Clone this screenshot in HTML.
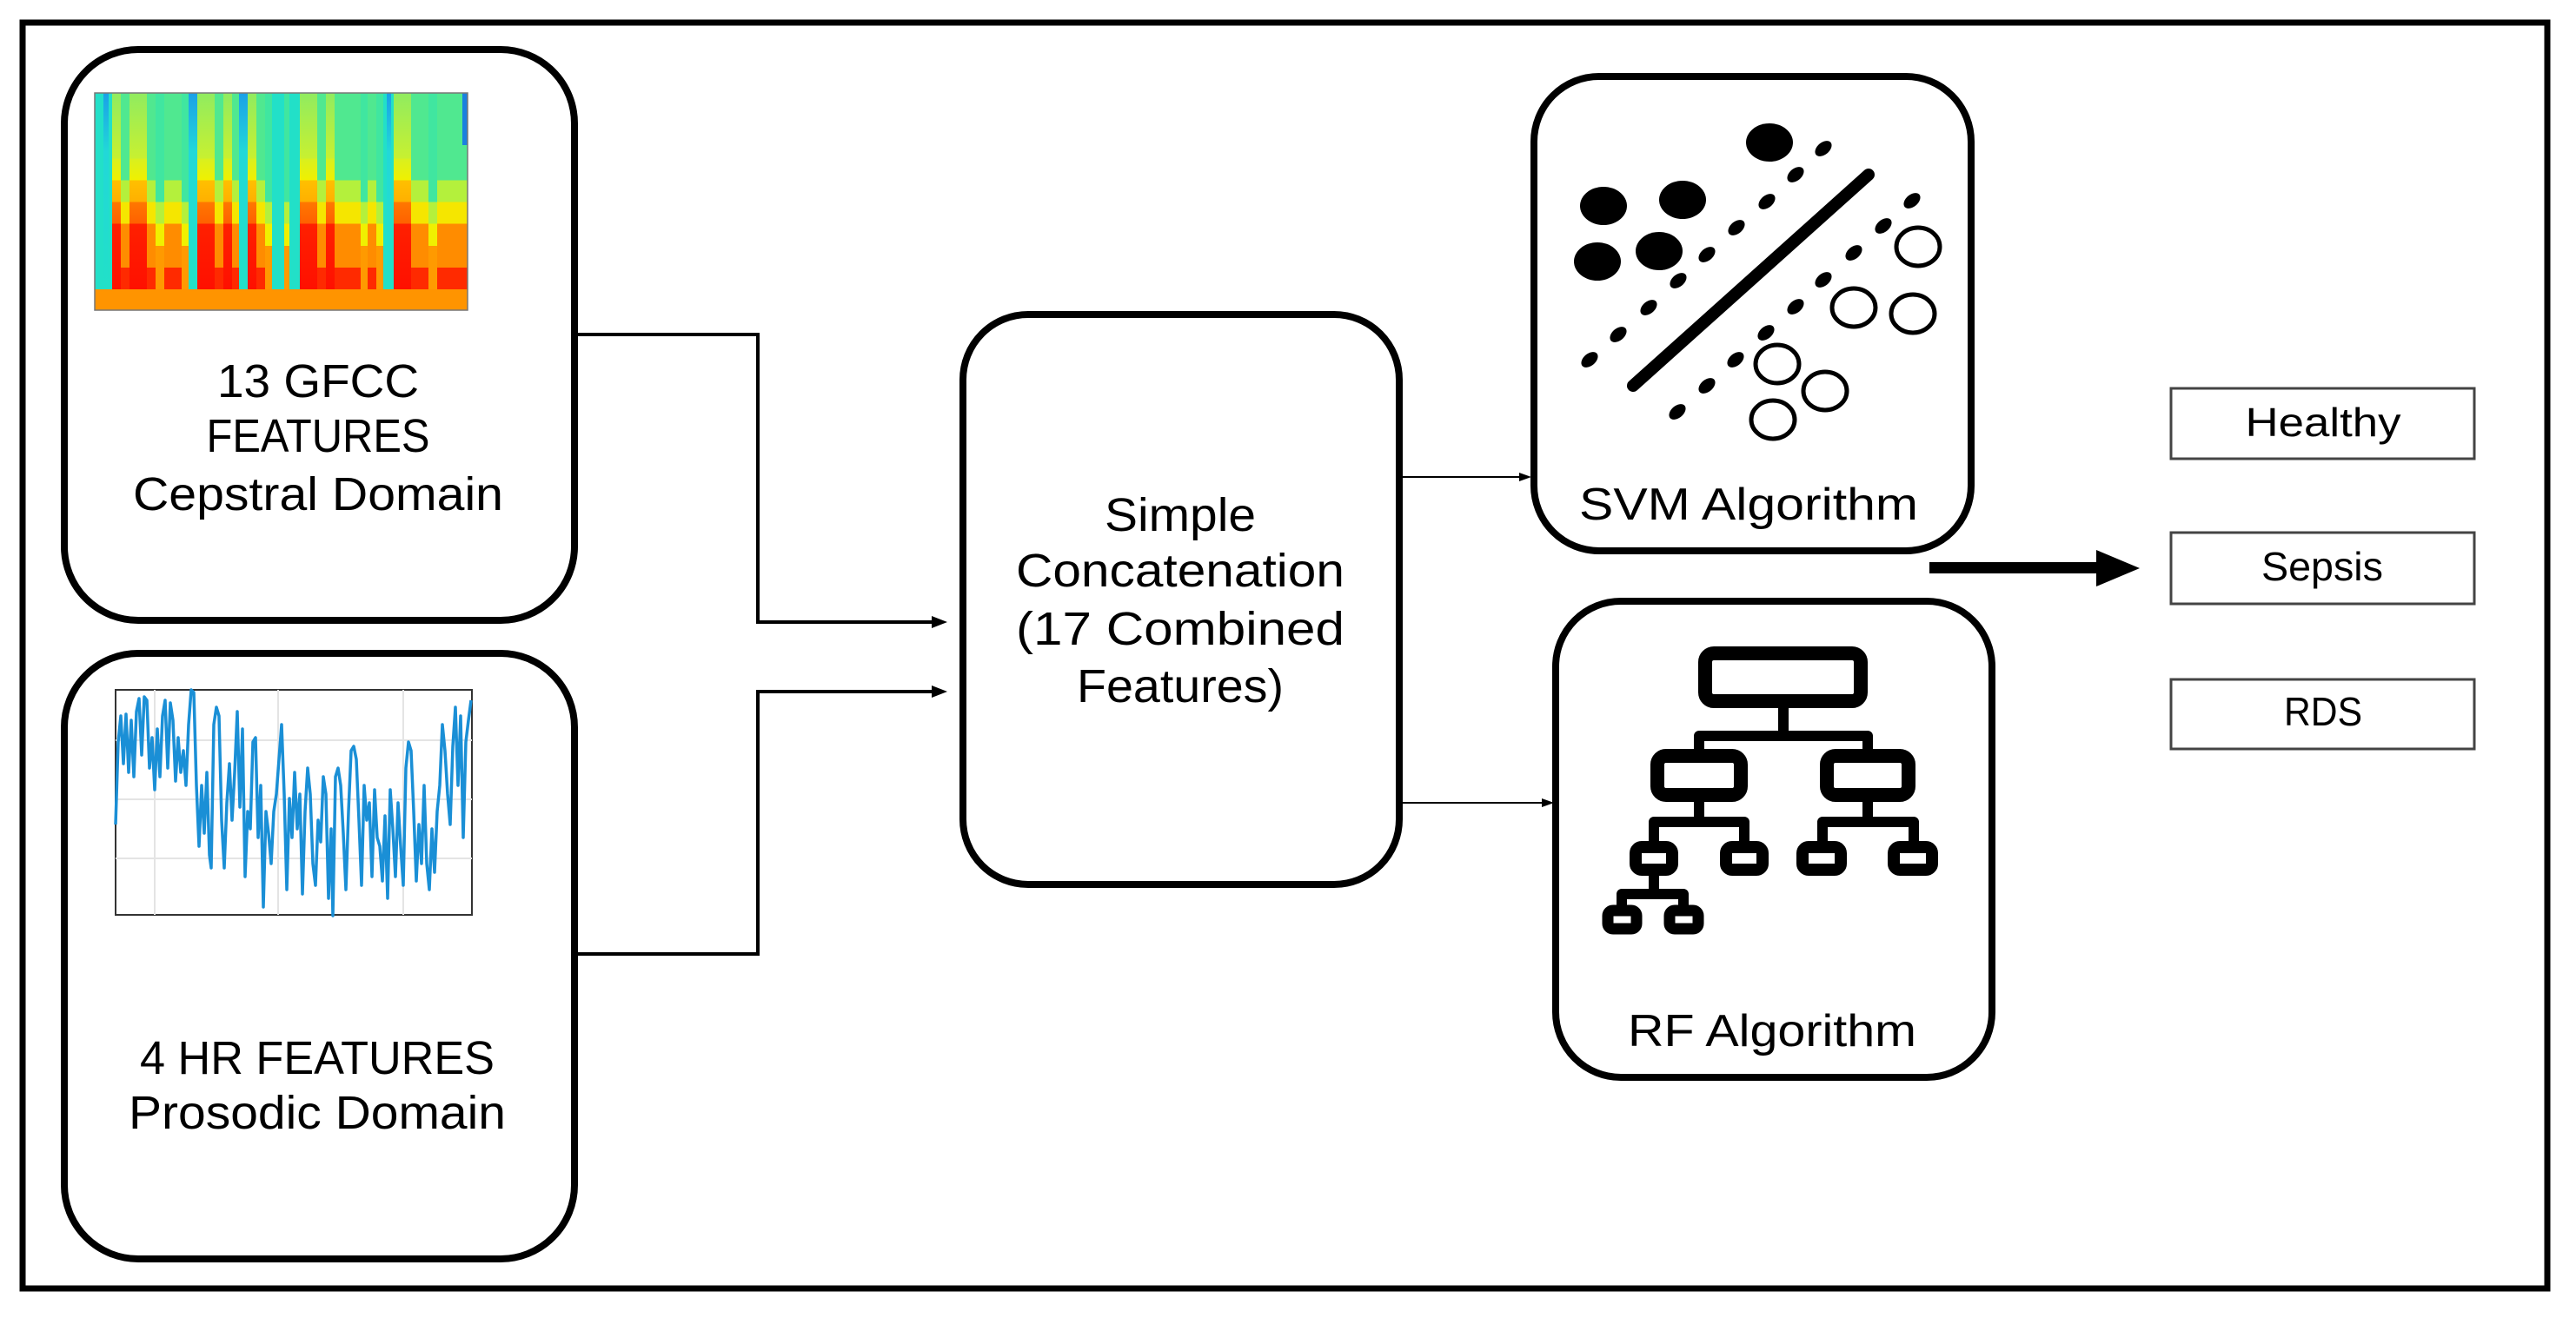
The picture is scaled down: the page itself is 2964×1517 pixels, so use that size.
<!DOCTYPE html>
<html><head><meta charset="utf-8"><style>
html,body{margin:0;padding:0;background:#fff;}
svg{display:block;}
text{font-family:"Liberation Sans",sans-serif;fill:#000;}
</style></head><body>
<svg width="2964" height="1517" viewBox="0 0 2964 1517" xmlns="http://www.w3.org/2000/svg">
<defs>
<linearGradient id="h0" x1="0" y1="0" x2="0" y2="1"><stop offset="0" stop-color="#22e0c8"/><stop offset="1" stop-color="#22e0c8"/></linearGradient>
<linearGradient id="hb" x1="0" y1="0" x2="0" y2="1"><stop offset="0" stop-color="#1aa0e8"/><stop offset="0.3" stop-color="#22d8d8"/><stop offset="1" stop-color="#22e0c8"/></linearGradient>
<linearGradient id="h3" x1="0" y1="0" x2="0" y2="1">
<stop offset="0" stop-color="#40e6a0"/><stop offset="0.556" stop-color="#40e6a0"/><stop offset="0.556" stop-color="#b4f03c"/><stop offset="0.667" stop-color="#b4f03c"/><stop offset="0.667" stop-color="#f0f000"/><stop offset="0.778" stop-color="#f0f000"/><stop offset="0.778" stop-color="#ff9a00"/><stop offset="1" stop-color="#ff9a00"/></linearGradient>
<linearGradient id="h4" x1="0" y1="0" x2="0" y2="1">
<stop offset="0" stop-color="#50e890"/><stop offset="0.444" stop-color="#50e890"/><stop offset="0.444" stop-color="#b4f03c"/><stop offset="0.556" stop-color="#b4f03c"/><stop offset="0.556" stop-color="#f5e600"/><stop offset="0.667" stop-color="#f5e600"/><stop offset="0.667" stop-color="#ff8c00"/><stop offset="0.889" stop-color="#ff8c00"/><stop offset="0.889" stop-color="#ff2a00"/><stop offset="1" stop-color="#ff2a00"/></linearGradient>
<linearGradient id="h5" x1="0" y1="0" x2="0" y2="1">
<stop offset="0" stop-color="#90ec60"/><stop offset="0.333" stop-color="#c8f030"/><stop offset="0.333" stop-color="#d8f020"/><stop offset="0.444" stop-color="#f0f000"/><stop offset="0.444" stop-color="#ffc000"/><stop offset="0.556" stop-color="#ffb000"/><stop offset="0.556" stop-color="#ff7800"/><stop offset="0.667" stop-color="#ff6000"/><stop offset="0.667" stop-color="#ff2000"/><stop offset="1" stop-color="#ff1000"/></linearGradient>
</defs>

<!-- outer border -->
<rect x="26" y="26" width="2905" height="1457" fill="none" stroke="#000" stroke-width="7"/>

<!-- GFCC box -->
<rect x="74" y="57" width="587" height="657" rx="85" fill="none" stroke="#000" stroke-width="8"/>
<!-- heatmap -->
<g transform="translate(109,107)">
<rect x="0" y="0" width="429" height="226" fill="url(#h0)"/>
<rect x="0" y="0" width="20" height="226" fill="url(#h0)"/>
<rect x="10" y="0" width="6" height="226" fill="url(#hb)"/>
<rect x="20" y="0" width="10" height="226" fill="url(#h5)"/>
<rect x="30" y="0" width="10" height="226" fill="url(#h4)"/>
<rect x="40" y="0" width="10" height="226" fill="url(#h5)"/>
<rect x="50" y="0" width="10" height="226" fill="url(#h5)"/>
<rect x="60" y="0" width="10" height="226" fill="url(#h4)"/>
<rect x="70" y="0" width="10" height="226" fill="url(#h3)"/>
<rect x="80" y="0" width="10" height="226" fill="url(#h4)"/>
<rect x="90" y="0" width="10" height="226" fill="url(#h4)"/>
<rect x="100" y="0" width="8" height="226" fill="url(#h3)"/>
<rect x="108" y="0" width="10" height="226" fill="url(#hb)"/>
<rect x="118" y="0" width="10" height="226" fill="url(#h5)"/>
<rect x="128" y="0" width="10" height="226" fill="url(#h5)"/>
<rect x="138" y="0" width="10" height="226" fill="url(#h4)"/>
<rect x="148" y="0" width="10" height="226" fill="url(#h5)"/>
<rect x="158" y="0" width="8" height="226" fill="url(#h4)"/>
<rect x="166" y="0" width="10" height="226" fill="url(#hb)"/>
<rect x="176" y="0" width="10" height="226" fill="url(#h5)"/>
<rect x="186" y="0" width="10" height="226" fill="url(#h4)"/>
<rect x="196" y="0" width="8" height="226" fill="url(#h3)"/>
<rect x="204" y="0" width="14" height="226" fill="url(#h0)"/>
<rect x="218" y="0" width="6" height="226" fill="url(#h3)"/>
<rect x="226" y="0" width="10" height="226" fill="url(#h0)"/>
<rect x="236" y="0" width="10" height="226" fill="url(#h5)"/>
<rect x="246" y="0" width="10" height="226" fill="url(#h5)"/>
<rect x="256" y="0" width="10" height="226" fill="url(#h4)"/>
<rect x="266" y="0" width="10" height="226" fill="url(#h5)"/>
<rect x="276" y="0" width="10" height="226" fill="url(#h4)"/>
<rect x="286" y="0" width="10" height="226" fill="url(#h4)"/>
<rect x="296" y="0" width="10" height="226" fill="url(#h4)"/>
<rect x="306" y="0" width="8" height="226" fill="url(#h3)"/>
<rect x="314" y="0" width="10" height="226" fill="url(#h4)"/>
<rect x="324" y="0" width="8" height="226" fill="url(#h3)"/>
<rect x="332" y="0" width="12" height="226" fill="url(#h0)"/>
<rect x="336" y="0" width="5" height="226" fill="url(#hb)"/>
<rect x="344" y="0" width="10" height="226" fill="url(#h5)"/>
<rect x="354" y="0" width="10" height="226" fill="url(#h5)"/>
<rect x="364" y="0" width="10" height="226" fill="url(#h4)"/>
<rect x="374" y="0" width="10" height="226" fill="url(#h4)"/>
<rect x="384" y="0" width="10" height="226" fill="url(#h3)"/>
<rect x="394" y="0" width="12" height="226" fill="url(#h4)"/>
<rect x="406" y="0" width="23" height="226" fill="url(#h4)"/>
<rect x="423" y="0" width="6" height="60" fill="#1a80e0"/>
<rect x="0" y="226" width="429" height="24" fill="#ff9400"/>
<rect x="0" y="0" width="429" height="250" fill="none" stroke="#777" stroke-width="1.5"/>
</g>
<text x="366" y="457" font-size="54" text-anchor="middle" textLength="232" lengthAdjust="spacingAndGlyphs">13  GFCC</text>
<text x="366" y="520" font-size="54" text-anchor="middle" textLength="257" lengthAdjust="spacingAndGlyphs">FEATURES</text>
<text x="366" y="587" font-size="54" text-anchor="middle" textLength="426" lengthAdjust="spacingAndGlyphs">Cepstral Domain</text>

<!-- HR box -->
<rect x="74" y="752" width="587" height="697" rx="85" fill="none" stroke="#000" stroke-width="8"/>
<g transform="translate(133,794)">
<rect x="0" y="0" width="410" height="259" fill="#fff" stroke="#333" stroke-width="2"/>
<g stroke="#e4e4e4" stroke-width="2"><line x1="0" y1="58" x2="410" y2="58"/><line x1="0" y1="126" x2="410" y2="126"/><line x1="0" y1="194" x2="410" y2="194"/><line x1="45" y1="0" x2="45" y2="259"/><line x1="187" y1="0" x2="187" y2="259"/><line x1="331" y1="0" x2="331" y2="259"/></g>
<polyline fill="none" stroke="#1a8fd6" stroke-width="3.5" stroke-linejoin="round" points="0,155 3,60 6,30 9,85 12,28 15,95 18,35 21,100 24,25 27,10 30,75 33,8 36,12 39,90 42,55 45,115 48,45 51,100 54,30 57,12 60,90 63,15 66,35 69,105 72,55 75,95 78,70 81,110 84,40 87,0 90,3 93,110 96,180 99,110 102,165 105,95 108,190 110,205 113,40 116,20 119,30 122,150 125,205 128,130 131,85 134,150 137,95 140,25 143,135 146,45 149,215 152,140 155,160 158,60 161,55 164,170 167,110 170,250 173,140 176,165 179,200 182,140 185,120 188,80 191,40 194,120 197,230 200,125 203,170 206,95 209,160 212,120 215,235 218,140 221,90 224,120 227,200 230,225 233,150 236,175 239,100 242,120 245,240 248,160 250,260 253,100 256,90 259,110 262,165 265,230 268,140 271,70 274,65 277,80 280,150 283,225 286,110 289,150 292,130 295,215 298,115 301,170 304,180 307,220 310,145 313,240 316,115 319,160 322,215 325,130 328,180 331,225 334,90 337,60 340,70 343,140 346,220 349,155 352,200 355,110 358,200 361,230 364,160 367,210 370,140 373,110 376,40 379,70 382,120 385,155 388,65 391,20 394,110 397,30 400,170 403,60 406,35 409,12"/>
</g>
<text x="365" y="1236" font-size="54" text-anchor="middle" textLength="408" lengthAdjust="spacingAndGlyphs">4  HR FEATURES</text>
<text x="365" y="1299" font-size="54" text-anchor="middle" textLength="434" lengthAdjust="spacingAndGlyphs">Prosodic Domain</text>

<!-- connectors left -->
<g fill="none" stroke="#000" stroke-width="4">
<polyline points="661,385 872,385 872,716 1075,716"/>
<polyline points="661,1098 872,1098 872,796 1075,796"/>
</g>
<polygon points="1090,716 1072,709 1072,723" fill="#000"/>
<polygon points="1090,796 1072,789 1072,803" fill="#000"/>

<!-- concat box -->
<rect x="1108" y="362" width="502" height="656" rx="75" fill="none" stroke="#000" stroke-width="8"/>
<text x="1358" y="611" font-size="54" text-anchor="middle" textLength="174" lengthAdjust="spacingAndGlyphs">Simple</text>
<text x="1358" y="675" font-size="54" text-anchor="middle" textLength="378" lengthAdjust="spacingAndGlyphs">Concatenation</text>
<text x="1358" y="742" font-size="54" text-anchor="middle" textLength="378" lengthAdjust="spacingAndGlyphs">(17  Combined</text>
<text x="1358" y="808" font-size="54" text-anchor="middle" textLength="238" lengthAdjust="spacingAndGlyphs">Features)</text>

<!-- concat to classifiers -->
<line x1="1612" y1="549" x2="1750" y2="549" stroke="#000" stroke-width="2"/>
<polygon points="1762,549 1748,544 1748,554" fill="#000"/>
<line x1="1612" y1="924" x2="1776" y2="924" stroke="#000" stroke-width="2"/>
<polygon points="1788,924 1774,919 1774,929" fill="#000"/>

<!-- SVM box -->
<rect x="1765" y="88" width="503" height="546" rx="75" fill="none" stroke="#000" stroke-width="8"/>
<g fill="#000">
<ellipse cx="2036" cy="164" rx="27" ry="22"/>
<ellipse cx="1845" cy="237" rx="27" ry="22"/>
<ellipse cx="1936" cy="230" rx="27" ry="22"/>
<ellipse cx="1838" cy="301" rx="27" ry="22"/>
<ellipse cx="1909" cy="289" rx="27" ry="22"/>
</g>
<g fill="none" stroke="#000" stroke-width="5">
<ellipse cx="2207" cy="284" rx="25" ry="22"/>
<ellipse cx="2133" cy="354" rx="25" ry="22"/>
<ellipse cx="2201" cy="361" rx="25" ry="22"/>
<ellipse cx="2045" cy="419" rx="25" ry="22"/>
<ellipse cx="2100" cy="450" rx="25" ry="22"/>
<ellipse cx="2040" cy="483" rx="25" ry="22"/>
</g>
<line x1="2150" y1="201" x2="1879" y2="444" stroke="#000" stroke-width="14" stroke-linecap="round"/>
<g fill="#000">
<ellipse cx="2098" cy="171" rx="11" ry="7" transform="rotate(-40 2098 171)"/>
<ellipse cx="2066" cy="201" rx="11" ry="7" transform="rotate(-40 2066 201)"/>
<ellipse cx="2033" cy="232" rx="11" ry="7" transform="rotate(-40 2033 232)"/>
<ellipse cx="1998" cy="262" rx="11" ry="7" transform="rotate(-40 1998 262)"/>
<ellipse cx="1964" cy="293" rx="11" ry="7" transform="rotate(-40 1964 293)"/>
<ellipse cx="1931" cy="323" rx="11" ry="7" transform="rotate(-40 1931 323)"/>
<ellipse cx="1897" cy="354" rx="11" ry="7" transform="rotate(-40 1897 354)"/>
<ellipse cx="1862" cy="385" rx="11" ry="7" transform="rotate(-40 1862 385)"/>
<ellipse cx="1829" cy="414" rx="11" ry="7" transform="rotate(-40 1829 414)"/>
<ellipse cx="2200" cy="231" rx="11" ry="7" transform="rotate(-40 2200 231)"/>
<ellipse cx="2167" cy="260" rx="11" ry="7" transform="rotate(-40 2167 260)"/>
<ellipse cx="2133" cy="291" rx="11" ry="7" transform="rotate(-40 2133 291)"/>
<ellipse cx="2098" cy="322" rx="11" ry="7" transform="rotate(-40 2098 322)"/>
<ellipse cx="2066" cy="353" rx="11" ry="7" transform="rotate(-40 2066 353)"/>
<ellipse cx="2032" cy="383" rx="11" ry="7" transform="rotate(-40 2032 383)"/>
<ellipse cx="1997" cy="414" rx="11" ry="7" transform="rotate(-40 1997 414)"/>
<ellipse cx="1964" cy="444" rx="11" ry="7" transform="rotate(-40 1964 444)"/>
<ellipse cx="1930" cy="474" rx="11" ry="7" transform="rotate(-40 1930 474)"/>
</g>
<text x="2012" y="598" font-size="52" text-anchor="middle" textLength="390" lengthAdjust="spacingAndGlyphs">SVM Algorithm</text>

<!-- thick arrow -->
<rect x="2220" y="647" width="196" height="13" fill="#000"/>
<polygon points="2412,633 2462,654 2412,675" fill="#000"/>

<!-- RF box -->
<rect x="1790" y="692" width="502" height="548" rx="75" fill="none" stroke="#000" stroke-width="8"/>
<g fill="none" stroke="#000">
<rect x="1962" y="752" width="179" height="55" rx="10" stroke-width="16"/>
<rect x="1907" y="870" width="96" height="45" rx="10" stroke-width="16"/>
<rect x="2102" y="870" width="94" height="45" rx="10" stroke-width="16"/>
<rect x="1882" y="975" width="42" height="26" rx="7" stroke-width="14"/>
<rect x="1986" y="975" width="42" height="26" rx="7" stroke-width="14"/>
<rect x="2074" y="975" width="44" height="26" rx="7" stroke-width="14"/>
<rect x="2179" y="975" width="44" height="26" rx="7" stroke-width="14"/>
<rect x="1850" y="1048" width="33" height="21" rx="6" stroke-width="13"/>
<rect x="1921" y="1048" width="33" height="21" rx="6" stroke-width="13"/>
<g stroke-width="12" stroke-linejoin="round">
<polyline points="2052,814 2052,847 1955,847 1955,864"/>
<polyline points="2052,847 2149,847 2149,864"/>
<polyline points="1955,922 1955,946 1903,946 1903,968"/>
<polyline points="1955,946 2007,946 2007,968"/>
<polyline points="2149,922 2149,946 2097,946 2097,968"/>
<polyline points="2149,946 2202,946 2202,968"/>
<polyline points="1903,1007 1903,1029 1866,1029 1866,1042"/>
<polyline points="1903,1029 1937,1029 1937,1042"/>
</g>
</g>
<text x="2039" y="1204" font-size="52" text-anchor="middle" textLength="332" lengthAdjust="spacingAndGlyphs">RF Algorithm</text>

<!-- outputs -->
<g fill="#fff" stroke="#444" stroke-width="3">
<rect x="2498" y="447" width="349" height="81"/>
<rect x="2498" y="613" width="349" height="82"/>
<rect x="2498" y="782" width="349" height="80"/>
</g>
<text x="2673" y="502" font-size="46" text-anchor="middle" textLength="179" lengthAdjust="spacingAndGlyphs">Healthy</text>
<text x="2672" y="668" font-size="46" text-anchor="middle" textLength="140" lengthAdjust="spacingAndGlyphs">Sepsis</text>
<text x="2673" y="835" font-size="46" text-anchor="middle" textLength="90" lengthAdjust="spacingAndGlyphs">RDS</text>
</svg>
</body></html>
